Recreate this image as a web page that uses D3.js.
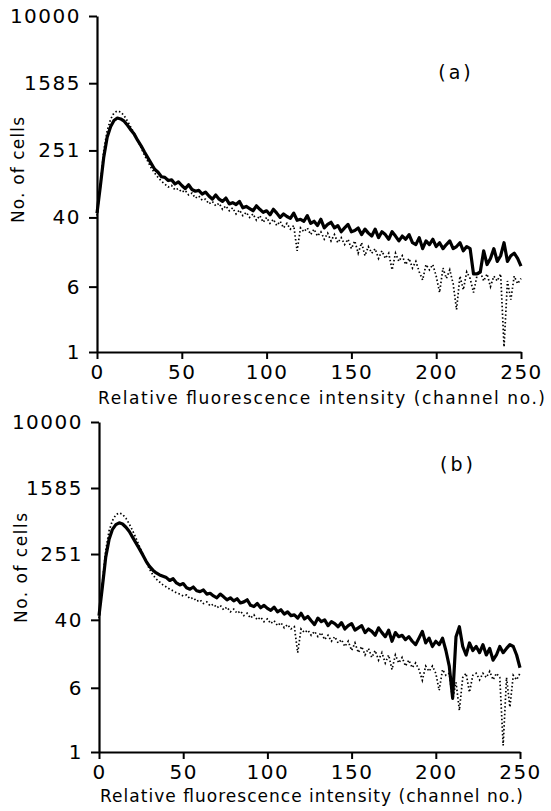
<!DOCTYPE html>
<html>
<head>
<meta charset="utf-8">
<script src="https://cdn.jsdelivr.net/npm/d3@7"></script>
<style>
  body { margin: 0; background: #fff; }
  text { font-family: "DejaVu Sans", sans-serif; fill: #000; }
</style>
</head>
<body>
<div id="chart"></div>
<script>
// channel numbers (every second channel)
const channels = d3.range(0, 251, 2);
const yTicks = [1, 6, 40, 251, 1585, 10000];
const xTicks = [0, 50, 100, 150, 200, 250];

// panel (a)
const solidA = [
  45, 95, 210, 360, 480, 570, 610, 595, 560, 500,
  440, 390, 330, 285, 240, 205, 175, 150, 138, 122,
  120, 110, 112, 100, 106, 96, 88, 98, 86, 82,
  84, 76, 80, 72, 66, 74, 66, 62, 68, 58,
  60, 57, 62, 52, 54, 51, 48, 55, 50, 46,
  48, 43, 50, 45, 40, 44, 41, 39, 45, 37,
  38, 36, 42, 34, 36, 32, 38, 30, 33, 35,
  30, 32, 27, 30, 33, 27, 28, 30, 25, 29,
  26, 24, 29, 23, 27, 25, 22, 27, 24, 21,
  24, 22, 25, 20, 19, 23, 17, 21, 19, 22,
  18, 20, 17, 19, 21, 17, 18, 20, 16, 18,
  17, 8.5, 8.5, 9, 16, 11, 13, 17, 12, 14,
  20, 12, 14, 15, 13, 10.5
];
const dottedA = [
  42, 100, 250, 430, 590, 700, 740, 720, 650, 560,
  470, 400, 330, 270, 220, 185, 155, 135, 120, 108,
  100, 92, 96, 85, 88, 80, 84, 74, 78, 68,
  72, 64, 66, 58, 62, 55, 59, 50, 55, 48,
  52, 44, 49, 42, 46, 40, 44, 37, 42, 35,
  40, 34, 38, 32, 36, 30, 34, 29, 32, 16,
  30, 27, 30, 25, 29, 24, 27, 22, 26, 21,
  25, 20, 23, 19, 22, 17, 21, 15, 20, 14,
  18, 15, 17, 13, 16, 13, 15, 9.5, 15, 12,
  14, 11, 13, 10, 12, 9, 7.2, 11, 9.5, 11,
  8, 5.1, 10, 7.5, 9.5, 6.5, 3.2, 8, 5.5, 9,
  7.5, 5.1, 8, 9, 7, 8.5, 6, 8, 7, 8.5,
  1.15, 7, 4.2, 8, 6.5, 7.5
];

// panel (b)
const solidB = [
  45, 100, 230, 380, 500, 570, 600, 580, 530, 470,
  400, 340, 290, 245, 205, 178, 160, 148, 140, 135,
  130, 120, 126, 112, 106, 110, 98, 94, 100, 90,
  88, 92, 82, 84, 78, 74, 82, 76, 70, 74,
  68, 72, 64, 66, 70, 60, 58, 63, 56, 60,
  55, 52, 57, 50, 53, 47, 50, 45, 46, 42,
  48, 41, 44, 39, 35, 42, 38, 40, 34, 38,
  36, 33, 37, 31, 34, 36, 30, 32, 34, 28,
  31, 29, 26, 32, 28, 25, 30, 22, 28, 25,
  26, 23, 25, 22, 20, 24, 29, 21, 24, 19,
  22, 20, 24, 17, 11, 4.5, 25, 33, 19, 15,
  21, 17, 19, 16, 20, 15, 18, 13, 15, 19,
  16, 18, 20, 19, 15, 10.5
];
const dottedB = [
  42, 110, 280, 480, 640, 750, 790, 760, 680, 580,
  480, 390, 310, 250, 200, 165, 140, 125, 115, 106,
  100, 94, 90, 85, 82, 78, 80, 72, 74, 67,
  70, 63, 66, 59, 62, 56, 60, 53, 57, 50,
  54, 48, 51, 45, 48, 42, 46, 40, 43, 38,
  41, 36, 39, 34, 37, 32, 35, 31, 33, 16,
  31, 28, 30, 26, 29, 25, 28, 23, 26, 22,
  25, 21, 23, 19, 22, 17, 21, 16, 19, 15,
  18, 14, 17, 13, 16, 12, 15, 10, 15, 12,
  14, 11, 13, 10.5, 12, 10, 7.4, 11, 9.5, 11,
  9, 5.6, 10, 8.5, 9, 4.3, 7, 3.2, 8, 9,
  5.3, 8.5, 9, 7.5, 9, 8, 9.5, 7.5, 9, 8,
  1.2, 8, 3.5, 8.5, 7.5, 9
];

(function(){
    const svg = d3.select('#chart')
        .append('svg')
            .attr('width', 551)
            .attr('height', 811);

    const panels = [
        { label: '(a)', solid: solidA, dotted: dottedA,
          left: 97, right: 521, top: 16, bottom: 352,
          labelX: 456, labelY: 79, titleY: 404, titleX0: 98, titleLen: 447,
          yTitleX: 24, yTitleY: 170, yTitleLen: 106 },
        { label: '(b)', solid: solidB, dotted: dottedB,
          left: 99, right: 520, top: 422, bottom: 752,
          labelX: 458, labelY: 471, titleY: 802, titleX0: 100, titleLen: 423,
          yTitleX: 27, yTitleY: 568, yTitleLen: 110 },
    ];

    panels.forEach(drawPanel);

    function drawPanel(p) {
        const x = d3.scaleLinear().domain([0, 250]).range([p.left, p.right]);
        const y = d3.scaleLog().domain([1, 10000]).range([p.bottom, p.top]);

        const line = (vals) => d3.line()
            .x((d, i) => x(channels[i]))
            .y(d => y(d))(vals);

        const g = svg.append('g');

        // dotted histogram first, solid one on top
        g.append('path')
            .attr('d', line(p.dotted))
            .attr('fill', 'none')
            .attr('stroke', '#000')
            .attr('stroke-width', 1.7)
            .attr('stroke-dasharray', '1.5,2.3');

        g.append('path')
            .attr('d', line(p.solid))
            .attr('fill', 'none')
            .attr('stroke', '#000')
            .attr('stroke-width', 3.2)
            .attr('stroke-linejoin', 'round');

        const yAxis = d3.axisLeft(y)
            .tickValues(yTicks)
            .tickFormat(d => d)
            .tickSize(8)
            .tickSizeOuter(0)
            .tickPadding(8);

        const xAxis = d3.axisBottom(x)
            .tickValues(xTicks)
            .tickFormat(d => d)
            .tickSize(7)
            .tickSizeOuter(0)
            .tickPadding(6);

        const ya = g.append('g')
            .attr('transform', `translate(${p.left}, 0)`)
            .call(yAxis);
        const xa = g.append('g')
            .attr('transform', `translate(0, ${p.bottom})`)
            .call(xAxis);

        [ya, xa].forEach(a => {
            a.select('.domain').attr('stroke-width', 2.2);
            a.selectAll('.tick line').attr('stroke-width', 2);
            a.selectAll('.tick text')
                .style('font-family', '"DejaVu Sans", sans-serif')
                .style('font-size', '20px')
                .style('letter-spacing', '1.5px');
        });

        g.append('text')
            .attr('x', p.titleX0)
            .attr('y', p.titleY)
            .attr('textLength', p.titleLen)
            .attr('lengthAdjust', 'spacing')
            .style('font-size', '17px')
            .text('Relative fluorescence intensity (channel no.)');

        g.append('text')
            .attr('transform', `translate(${p.yTitleX}, ${p.yTitleY + p.yTitleLen / 2}) rotate(-90)`)
            .attr('textLength', p.yTitleLen)
            .attr('lengthAdjust', 'spacing')
            .style('font-size', '17px')
            .text('No. of cells');

        g.append('text')
            .attr('x', p.labelX)
            .attr('y', p.labelY)
            .attr('text-anchor', 'middle')
            .style('font-size', '19px')
            .style('letter-spacing', '3px')
            .text(p.label);
    }
}())
</script>
</body>
</html>
